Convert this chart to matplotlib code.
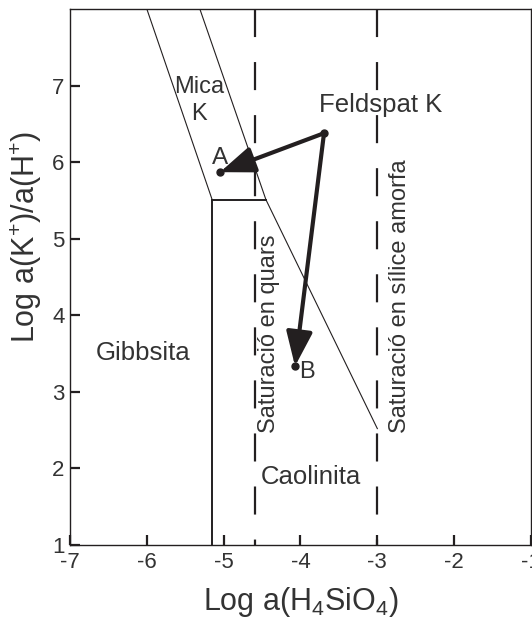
import matplotlib
matplotlib.use("Agg")
import matplotlib.pyplot as plt

plt.rcParams['font.family'] = ['Liberation Sans', 'DejaVu Sans']
plt.rcParams['mathtext.fontset'] = 'custom'
plt.rcParams['mathtext.rm'] = 'Liberation Sans'
plt.rcParams['mathtext.it'] = 'Liberation Sans:italic'
plt.rcParams['mathtext.bf'] = 'Liberation Sans:bold'
plt.rcParams['lines.scale_dashes'] = False

# ---- data ----
x_ticks = [-7, -6, -5, -4, -3, -2, -1]
y_ticks = [1, 2, 3, 4, 5, 6, 7]

# Gibbsite / K-mica boundary, then Gibbsite / Kaolinite vertical boundary
gibbs_mica_x = [-6.0, -5.15]
gibbs_mica_y = [8.0, 5.51]
gibbs_kaol_x = [-5.15, -5.15]
gibbs_kaol_y = [5.51, 1.0]
# K-mica / Kaolinite boundary
mica_kaol_x = [-5.15, -4.45]
mica_kaol_y = [5.51, 5.51]
# K-feldspar / K-mica and K-feldspar / Kaolinite boundaries
feld_x = [-5.31, -4.45, -3.0]
feld_y = [8.0, 5.51, 2.52]
# silica saturation lines
quartz_sat = -4.59
amorph_sat = -3.0

# water evolution points
feldspar_pt = (-3.694, 6.378)
point_A = (-5.048, 5.869)
point_B = (-4.071, 3.335)

ink = '#231f20'
txt = '#333333'

fig = plt.figure(figsize=(5.32, 6.18), dpi=100)
ax = fig.add_axes([70/532, 73/618, 461/532, 536/618])
ax.set_xlim(-7, -1)
ax.set_ylim(1, 8)

ax.plot(gibbs_mica_x, gibbs_mica_y, color=ink, lw=0.8)
ax.plot(gibbs_kaol_x, gibbs_kaol_y, color=ink, lw=1.4)
ax.plot(mica_kaol_x, mica_kaol_y, color=ink, lw=1.4)
ax.plot(feld_x, feld_y, color=ink, lw=0.8)
for xs in (quartz_sat, amorph_sat):
    ax.plot([xs, xs], [8.0, 1.0], color=ink, lw=1.6, dashes=(20.2, 18.0))

# arrows
for tgt in (point_A, point_B):
    ax.annotate('', xy=tgt, xytext=feldspar_pt,
                arrowprops=dict(arrowstyle='-|>,head_length=2.1,head_width=0.8',
                                mutation_scale=10, lw=3, color=ink,
                                shrinkA=0, shrinkB=0))
px = [feldspar_pt[0], point_A[0], point_B[0]]
py = [feldspar_pt[1], point_A[1], point_B[1]]
ax.plot(px, py, 'o', ls='none', ms=5, color=ink, zorder=5)

# labels
ax.text(-5.321, 6.908, 'Mica', ha='center', va='baseline', fontsize=17, color=txt)
ax.text(-5.321, 6.556, 'K', ha='center', va='baseline', fontsize=17, color=txt)
ax.text(-5.048, 5.978, 'A', ha='center', va='baseline', fontsize=17.5, color=txt)
ax.text(-3.915, 3.187, 'B', ha='center', va='baseline', fontsize=17, color=txt)
ax.text(-2.959, 6.652, 'Feldspat K', ha='center', va='baseline', fontsize=18.5, color=txt)
ax.text(-6.043, 3.422, 'Gibbsita', ha='center', va='baseline', fontsize=18.5, color=txt)
ax.text(-3.863, 1.792, 'Caolinita', ha='center', va='baseline', fontsize=18.5, color=txt)
ax.text(-4.332, 2.457, 'Saturació en quars', rotation=90, rotation_mode='anchor',
        ha='left', va='baseline', fontsize=17, color=txt)
ax.text(-2.627, 2.457, 'Saturació en sílice amorfa', rotation=90, rotation_mode='anchor',
        ha='left', va='baseline', fontsize=17, color=txt)

ax.set_xticks(x_ticks)
ax.set_yticks(y_ticks)
ax.set_xticklabels([str(v) for v in x_ticks])
ax.set_yticklabels([str(v) for v in y_ticks])
ax.tick_params(direction='in', length=7, width=1.6, color=ink, labelsize=16,
               labelcolor=txt)
ax.tick_params(axis='x', pad=5)
ax.tick_params(axis='y', pad=4)
for s in ax.spines.values():
    s.set_linewidth(1.0)
    s.set_color(ink)

ax.set_xlabel(r'Log a(H$_4$SiO$_4$)', fontsize=22, color=txt)
ax.set_ylabel(r'Log a(K$^{+}$)/a(H$^{+}$)', fontsize=22, color=txt)
ax.xaxis.set_label_coords(0.5, -0.075)
ax.yaxis.set_label_coords(-0.056, 0.575)

fig.savefig('out.png', dpi=100)
